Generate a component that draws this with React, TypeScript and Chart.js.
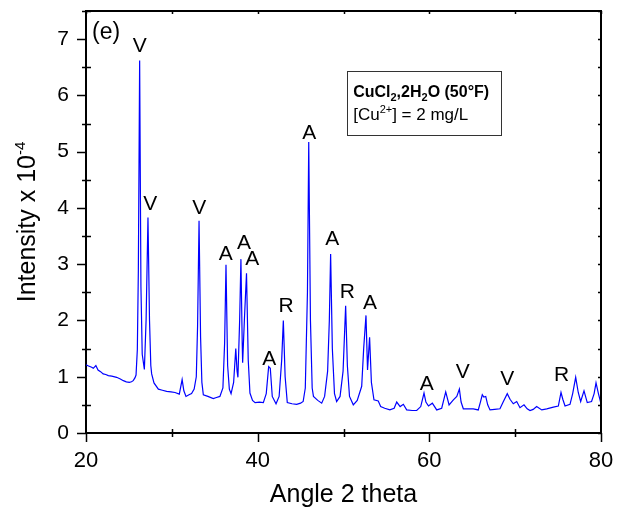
import React, { useEffect, useRef } from "react";
import { Chart, registerables } from "chart.js";

Chart.register(...registerables);

// 2-theta angles (degrees)
const ANGLES: number[] = [
  20.0, 20.3, 20.66, 20.85, 21.15, 21.4, 21.7, 22.0, 22.3, 22.6, 23.0, 23.57, 24.0, 24.35, 24.7, 25.05, 25.3, 25.5, 25.7, 25.83,
  25.98, 26.1, 26.25, 26.4, 26.55, 26.8, 27.0, 27.22, 27.4, 27.55, 27.65, 27.92, 28.43, 28.9, 29.4, 29.9, 30.37, 30.87, 31.2, 31.4,
  31.65, 32.0, 32.3, 32.6, 32.85, 33.0, 33.17, 33.35, 33.5, 33.67, 34.2, 34.83, 35.2, 35.6, 35.95, 36.15, 36.31, 36.5, 36.7, 36.9,
  37.2, 37.45, 37.6, 37.7, 37.9, 38.05, 38.2, 38.25, 38.45, 38.7, 38.9, 39.1, 39.4, 39.7, 40.2, 40.66, 41.0, 41.28, 41.47, 41.7,
  42.14, 42.5, 42.8, 42.99, 43.2, 43.45, 44.0, 44.54, 45.0, 45.3, 45.55, 45.8, 45.95, 46.15, 46.35, 46.5, 47.0, 47.46, 47.8, 48.15,
  48.35, 48.5, 48.7, 48.95, 49.2, 49.6, 49.95, 50.25, 50.45, 50.7, 51.14, 51.6, 52.12, 52.35, 52.62, 52.8, 53.04, 53.25, 53.55, 54.05,
  54.33, 54.8, 55.4, 55.9, 56.2, 56.6, 56.97, 57.36, 58.0, 58.53, 59.0, 59.38, 59.6, 59.9, 60.35, 60.86, 61.44, 61.91, 62.3, 62.8,
  63.2, 63.5, 63.7, 63.96, 64.5, 65.12, 65.7, 65.95, 66.17, 66.35, 66.57, 66.8, 67.07, 67.6, 68.23, 68.6, 69.08, 69.4, 69.78, 70.18,
  70.56, 71.03, 71.4, 71.73, 72.1, 72.5, 73.1, 73.68, 74.45, 75.03, 75.34, 75.55, 75.81, 76.39, 76.7, 77.05, 77.35, 77.63, 78.02, 78.4,
  78.9, 79.2, 79.42, 79.7, 80.0,
];

// Intensity x 10^-4
const INTENSITY: number[] = [
  1.21, 1.19, 1.17, 1.15, 1.2, 1.12, 1.09, 1.05, 1.04, 1.02, 1.01, 0.99, 0.96, 0.93, 0.91, 0.9, 0.91, 0.93, 0.98, 1.03,
  1.48, 2.9, 6.62, 2.6, 1.4, 1.13, 2.0, 3.83, 2.0, 1.2, 1.05, 0.89, 0.78, 0.76, 0.74, 0.73, 0.72, 0.69, 0.95, 0.75,
  0.65, 0.68, 0.7, 0.78, 1.0, 1.9, 3.77, 1.7, 0.9, 0.68, 0.65, 0.61, 0.63, 0.65, 0.8, 1.6, 2.99, 1.2, 0.78, 0.7,
  0.9, 1.5, 1.1, 0.99, 2.0, 3.09, 1.6, 1.25, 2.0, 2.84, 1.3, 0.71, 0.58, 0.54, 0.55, 0.54, 0.7, 1.18, 1.15, 0.65,
  0.52, 0.65, 1.3, 2.0, 1.0, 0.54, 0.52, 0.51, 0.53, 0.56, 0.8, 2.5, 5.17, 2.0, 0.8, 0.65, 0.58, 0.53, 0.65, 1.1,
  2.0, 3.18, 1.5, 0.7, 0.56, 0.65, 1.1, 2.26, 1.2, 0.65, 0.5, 0.58, 0.83, 1.5, 2.09, 1.12, 1.7, 0.9, 0.59, 0.57,
  0.47, 0.44, 0.41, 0.44, 0.55, 0.47, 0.51, 0.41, 0.4, 0.4, 0.47, 0.71, 0.55, 0.48, 0.53, 0.41, 0.44, 0.73, 0.5, 0.59,
  0.65, 0.78, 0.55, 0.43, 0.43, 0.43, 0.41, 0.55, 0.68, 0.64, 0.65, 0.5, 0.41, 0.42, 0.43, 0.55, 0.7, 0.6, 0.52, 0.56,
  0.45, 0.5, 0.43, 0.4, 0.42, 0.47, 0.41, 0.43, 0.46, 0.48, 0.72, 0.6, 0.48, 0.51, 0.7, 0.99, 0.72, 0.56, 0.75, 0.54,
  0.56, 0.7, 0.89, 0.7, 0.52,
];

// Phase labels above peaks
const PEAK_LABELS: string[] = ["V", "V", "V", "A", "A", "A", "A", "R", "A", "A", "R", "A", "A", "V", "V", "R"];
const PEAK_LABEL_X: number[] = [26.25, 27.49, 33.2, 36.28, 38.41, 39.38, 41.36, 43.3, 46.02, 48.7, 50.44, 53.09, 59.69, 63.89, 69.09, 75.42];
const PEAK_LABEL_Y: number[] = [6.91, 4.09, 4.03, 3.2, 3.4, 3.12, 1.35, 2.29, 5.36, 3.48, 2.53, 2.33, 0.9, 1.11, 0.99, 1.05];

const X_LABELED_TICKS: number[] = [20, 40, 60, 80];
const PANEL_LABEL = "(e)";
const X_TITLE = "Angle 2 theta";
const Y_TITLE = "Intensity x 10";
const Y_TITLE_EXP = "-4";

const FONT = "'Liberation Sans', Arial, Helvetica, sans-serif";

type Part = { t: string; size: number; dy: number; bold?: boolean };

function drawRich(ctx: CanvasRenderingContext2D, x: number, y: number, parts: Part[]) {
  let cx = x;
  for (const p of parts) {
    ctx.font = `${p.bold ? "bold " : ""}${p.size}px ${FONT}`;
    ctx.fillText(p.t, cx, y + p.dy);
    cx += ctx.measureText(p.t).width;
  }
}
function richWidth(ctx: CanvasRenderingContext2D, parts: Part[]) {
  let w = 0;
  for (const p of parts) {
    ctx.font = `${p.bold ? "bold " : ""}${p.size}px ${FONT}`;
    w += ctx.measureText(p.t).width;
  }
  return w;
}

const decorPlugin = {
  id: "decor",
  afterDraw(chart: any) {
    const ctx: CanvasRenderingContext2D = chart.ctx;
    const xs = chart.scales.x;
    const ys = chart.scales.y;
    const ca = chart.chartArea;
    ctx.save();
    // frame top & right
    ctx.strokeStyle = "#000";
    ctx.lineWidth = 2;
    ctx.beginPath();
    ctx.moveTo(ca.left, ca.top);
    ctx.lineTo(ca.right, ca.top);
    ctx.lineTo(ca.right, ca.bottom);
    ctx.stroke();

    // ticks
    ctx.lineWidth = 1.5;
    ctx.beginPath();
    for (let v = xs.min; v <= xs.max + 1e-9; v += 10) {
      const px = Math.round(xs.getPixelForValue(v)) + 0.5;
      if (v % 20 === 0) {
        ctx.moveTo(px, ca.bottom);
        ctx.lineTo(px, ca.bottom + 9);
      } else {
        ctx.moveTo(px, ca.bottom - 4);
        ctx.lineTo(px, ca.bottom + 4);
      }
      ctx.moveTo(px, ca.top);
      ctx.lineTo(px, ca.top + 3);
    }
    for (let v = 0; v <= ys.max + 1e-9; v += 0.5) {
      const py = Math.round(ys.getPixelForValue(v)) + 0.5;
      if (Math.abs(v - Math.round(v)) < 1e-9) {
        ctx.moveTo(ca.left - 9, py);
        ctx.lineTo(ca.left, py);
      } else {
        ctx.moveTo(ca.left - 4, py);
        ctx.lineTo(ca.left + 5, py);
      }
      ctx.moveTo(ca.right - 3, py);
      ctx.lineTo(ca.right, py);
    }
    ctx.stroke();

    ctx.fillStyle = "#000";
    // peak labels
    const lfs = 21;
    ctx.font = `${lfs}px ${FONT}`;
    ctx.textAlign = "center";
    ctx.textBaseline = "alphabetic";
    for (let i = 0; i < PEAK_LABELS.length; i++) {
      const px = xs.getPixelForValue(PEAK_LABEL_X[i]);
      const py = ys.getPixelForValue(PEAK_LABEL_Y[i]) + 0.358 * lfs;
      ctx.fillText(PEAK_LABELS[i], px, py);
    }
    // panel label
    ctx.textAlign = "left";
    ctx.font = `23px ${FONT}`;
    ctx.fillText(PANEL_LABEL, xs.getPixelForValue(20.7), ys.getPixelForValue(7.0));

    // legend box
    const bx0 = xs.getPixelForValue(50.37);
    const bx1 = xs.getPixelForValue(68.32);
    const by0 = ys.getPixelForValue(6.43);
    const by1 = ys.getPixelForValue(5.3);
    ctx.strokeStyle = "#333";
    ctx.lineWidth = 1;
    ctx.strokeRect(Math.round(bx0) + 0.5, Math.round(by0) + 0.5, Math.round(bx1 - bx0), Math.round(by1 - by0));
    drawRich(ctx, bx0 + 6.5, by0 + 25.5, [
      { t: "CuCl", size: 16, dy: 0, bold: true },
      { t: "2", size: 11, dy: 4, bold: true },
      { t: ",2H", size: 16, dy: 0, bold: true },
      { t: "2", size: 11, dy: 4, bold: true },
      { t: "O (50°F)", size: 16, dy: 0, bold: true },
    ]);
    drawRich(ctx, bx0 + 6.5, by0 + 48.5, [
      { t: "[Cu", size: 17, dy: 0 },
      { t: "2+", size: 11, dy: -7 },
      { t: "] = 2 mg/L", size: 17, dy: 0 },
    ]);

    // x title
    ctx.textAlign = "center";
    ctx.font = `25px ${FONT}`;
    ctx.fillText(X_TITLE, (ca.left + ca.right) / 2, 502);

    // y title
    const yParts: Part[] = [
      { t: Y_TITLE, size: 25, dy: 0 },
      { t: Y_TITLE_EXP, size: 15, dy: -10 },
    ];
    ctx.textAlign = "left";
    ctx.translate(35, (ca.top + ca.bottom) / 2);
    ctx.rotate(-Math.PI / 2);
    const w = richWidth(ctx, yParts);
    drawRich(ctx, -w / 2, 0, yParts);
    ctx.restore();
  },
};

export default function App() {
  const ref = useRef<HTMLCanvasElement | null>(null);
  useEffect(() => {
    if (!ref.current) return;
    const points = ANGLES.map((a, i) => ({ x: a, y: INTENSITY[i] }));
    const chart = new Chart(ref.current, {
      type: "line",
      data: {
        datasets: [
          {
            data: points,
            borderColor: "#0000ff",
            borderWidth: 1.2,
            pointRadius: 0,
            tension: 0,
            fill: false,
          },
        ],
      },
      options: {
        responsive: false,
        animation: false,
        layout: { padding: { left: 0, right: 23, top: 11, bottom: 0 } },
        plugins: { legend: { display: false }, tooltip: { enabled: false }, title: { display: false } },
        scales: {
          x: {
            type: "linear",
            min: 20,
            max: 80,
            afterFit: (s: any) => {
              s.height = 80;
              s.paddingLeft = 0;
              s.paddingRight = 0;
            },
            ticks: {
              stepSize: 10,
              autoSkip: false,
              maxRotation: 0,
              padding: 6,
              color: "#000",
              font: { family: FONT, size: 22 },
              callback: (v: any) => (X_LABELED_TICKS.includes(Number(v)) ? String(v) : ""),
            },
            grid: { display: false, drawTicks: true, tickLength: 9 },
            border: { display: true, color: "#000", width: 2 },
          },
          y: {
            type: "linear",
            min: 0,
            max: 7.5,
            afterFit: (s: any) => {
              s.width = 86;
              s.paddingTop = 0;
              s.paddingBottom = 0;
            },
            ticks: {
              stepSize: 1,
              includeBounds: false,
              padding: 8,
              color: "#000",
              font: { family: FONT, size: 21 },
            },
            grid: { display: false, drawTicks: true, tickLength: 9 },
            border: { display: true, color: "#000", width: 2 },
          },
        },
      },
      plugins: [decorPlugin],
    });
    return () => chart.destroy();
  }, []);
  return (
    <div style={{ position: "fixed", left: 0, top: 0, width: 624, height: 513, background: "#fff" }}>
      <canvas ref={ref} width={624} height={513} style={{ width: 624, height: 513, display: "block" }} />
    </div>
  );
}
